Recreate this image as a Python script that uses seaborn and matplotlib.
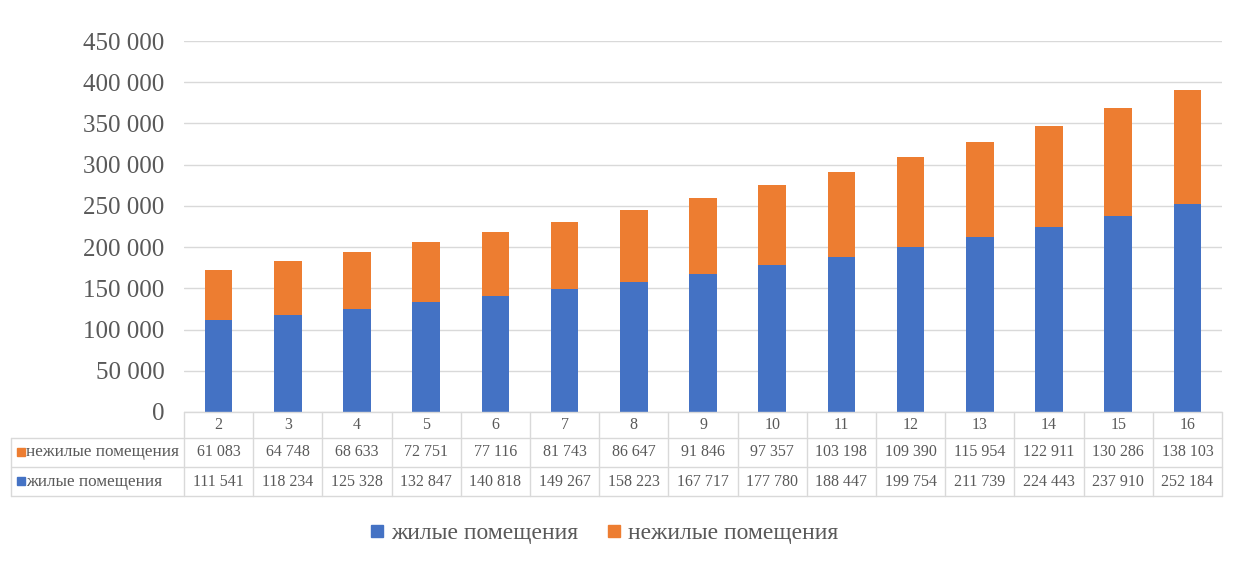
import matplotlib
matplotlib.use("Agg")
import matplotlib.pyplot as plt
from matplotlib.lines import Line2D
import seaborn as sns

# ---- data ----
categories = ["2", "3", "4", "5", "6", "7", "8", "9", "10", "11", "12", "13", "14", "15", "16"]
residential = [111541, 118234, 125328, 132847, 140818, 149267, 158223, 167717,
               177780, 188447, 199754, 211739, 224443, 237910, 252184]
nonresidential = [61083, 64748, 68633, 72751, 77116, 81743, 86647, 91846,
                  97357, 103198, 109390, 115954, 122911, 130286, 138103]
label_res = "жилые помещения"
label_nonres = "нежилые помещения"
yticks = [0, 50000, 100000, 150000, 200000, 250000, 300000, 350000, 400000, 450000]

BLUE = "#4472C4"
ORANGE = "#ED7D31"
TXT = "#595959"
GRID = "#D9D9D9"

sns.set_theme(style="white")
plt.rcParams["font.family"] = ["Liberation Serif", "DejaVu Serif"]

fig = plt.figure(figsize=(12.47, 5.65), dpi=100)
W, H = 1247, 565
L_PX, R_PX, TOP_PX, BOT_PX = 184, 1222, 41, 412
ax = fig.add_axes([L_PX / W, 1 - BOT_PX / H, (R_PX - L_PX) / W, (BOT_PX - TOP_PX) / H])

totals = [r + n for r, n in zip(residential, nonresidential)]
sns.barplot(x=categories, y=totals, order=categories, color=ORANGE, saturation=1,
            width=0.4, ax=ax, linewidth=0)
sns.barplot(x=categories, y=residential, order=categories, color=BLUE, saturation=1,
            width=0.4, ax=ax, linewidth=0)

n = len(categories)
ax.set_xlim(-0.5, n - 0.5)
ax.set_ylim(0, 450000)
ax.set_yticks(yticks)
ax.set_yticklabels([f"{v:,}".replace(",", " ") for v in yticks], fontsize=18, color=TXT)
ax.tick_params(axis="y", length=0, pad=14)
ax.set_xticks([])
ax.set_xlabel("")
ax.set_ylabel("")
ax.yaxis.grid(True, color=GRID, linewidth=1)
ax.set_axisbelow(True)
for s in ax.spines.values():
    s.set_visible(False)

# ---- data table under the chart ----
colw = (R_PX - L_PX) / n
def px_x(px):
    return -0.5 + (px - L_PX) / colw
def px_y(py):
    return (BOT_PX - py) / (BOT_PX - TOP_PX)

tr = ax.get_xaxis_transform()
lkw = dict(color=GRID, linewidth=1, transform=tr, clip_on=False)
for py in [438, 467, 496]:
    ax.add_line(Line2D([px_x(11), px_x(R_PX)], [px_y(py), px_y(py)], **lkw))
ax.add_line(Line2D([px_x(L_PX), px_x(R_PX)], [px_y(412), px_y(412)], **lkw))
for i in range(n + 1):
    xb = -0.5 + i
    ax.add_line(Line2D([xb, xb], [px_y(412), px_y(496)], **lkw))
ax.add_line(Line2D([px_x(11), px_x(11)], [px_y(438), px_y(496)], **lkw))

FS = 11.5
fmt = lambda v: f"{v:,}".replace(",", " ")
for i, c in enumerate(categories):
    ax.text(i, px_y(425), c, ha="center", va="center", fontsize=FS, color=TXT, transform=tr)
    ax.text(i, px_y(452.5), fmt(nonresidential[i]), ha="center", va="center",
            fontsize=FS, color=TXT, transform=tr)
    ax.text(i, px_y(481.5), fmt(residential[i]), ha="center", va="center",
            fontsize=FS, color=TXT, transform=tr)

for py, lab, col in [(452.5, label_nonres, ORANGE), (481.5, label_res, BLUE)]:
    ax.plot([px_x(21)], [px_y(py - 1)], marker="s", markersize=6, color=col,
            transform=tr, clip_on=False, linestyle="none")
    ax.text(px_x(26), px_y(py), lab, ha="left", va="center", fontsize=12.3,
            color=TXT, transform=tr)

# ---- legend ----
handles = [Line2D([], [], marker="s", linestyle="none", markersize=8, color=BLUE),
           Line2D([], [], marker="s", linestyle="none", markersize=8, color=ORANGE)]
fig.legend(handles, [label_res, label_nonres], loc="center",
           bbox_to_anchor=(604 / W, 1 - 533 / H), ncol=2, frameon=False,
           fontsize=17, labelcolor=TXT, handlelength=0.6, handletextpad=0.3,
           columnspacing=1.2)

fig.savefig("out.png", dpi=100)
